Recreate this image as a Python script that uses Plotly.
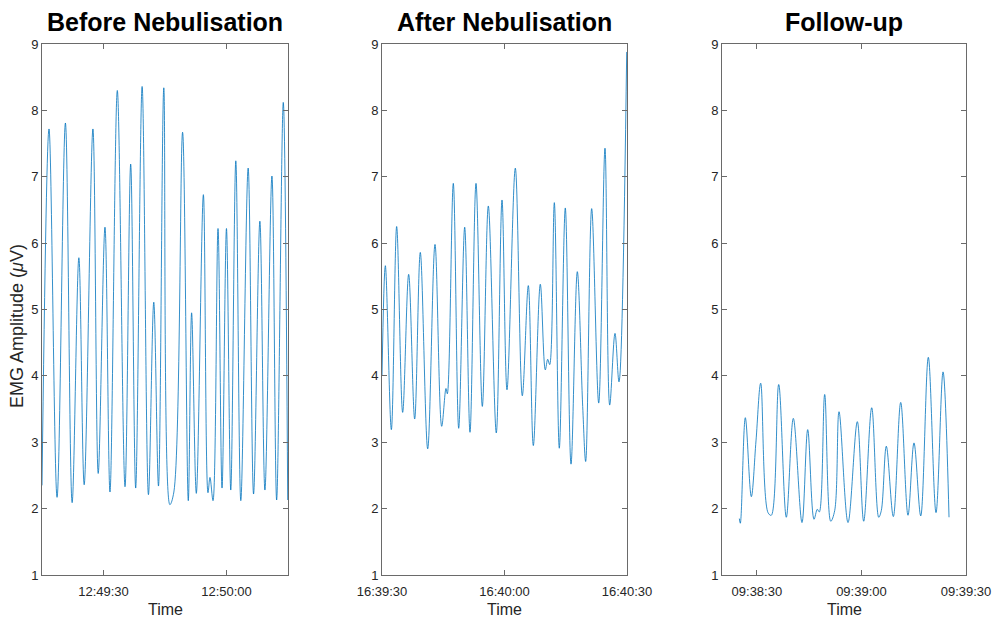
import pandas as pd
import plotly.graph_objects as go

# ---------------- data ----------------
titles = ["Before Nebulisation", "After Nebulisation", "Follow-up"]
x_label = "Time"
y_label = "EMG Amplitude (<i>μ</i>V)"

before_start = "2021-01-01 12:49:15"
before_t = [0.0, 1.71, 3.67, 5.71, 7.35, 8.99, 10.29, 12.42, 13.71, 15.36, 16.58,
            18.37, 20.25, 21.63, 22.85, 24.42, 25.96, 27.26, 28.41, 29.71, 31.18,
            32.16, 34.29, 35.68, 36.49, 37.64, 39.36, 40.48, 40.97, 41.71, 42.93,
            43.91, 44.99, 46.04, 47.27, 48.49, 50.28, 51.60, 53.14, 54.37, 56.08,
            57.23, 58.85, 59.93]
before_v = [2.35, 7.72, 2.17, 7.81, 2.09, 5.78, 2.36, 7.72, 2.53, 6.24, 2.25,
            8.30, 2.33, 7.19, 2.31, 8.36, 2.21, 5.11, 2.34, 8.34, 2.06,
            2.25, 7.67, 2.12, 4.95, 2.23, 6.73, 2.24, 2.47, 2.12, 6.22,
            2.31, 6.22, 2.28, 7.24, 2.12, 7.13, 2.22, 6.33, 2.28, 7.01,
            2.13, 8.12, 2.13]

after_start = "2021-01-01 16:39:30"
after_t = [0.0, 0.82, 2.29, 3.59, 5.06, 6.53, 8.00, 9.38, 11.19, 12.98, 14.62,
           15.67, 16.00, 17.46, 18.78, 20.25, 21.55, 23.02, 24.57, 26.04, 27.99,
           29.39, 30.61, 32.65, 34.36, 35.83, 37.06, 38.77, 39.99, 40.58, 41.07,
           42.20, 43.42, 44.89, 46.29, 47.83, 49.15, 49.88, 51.35, 53.07, 54.61,
           55.76, 57.06, 58.04, 59.93]
after_v = [4.00, 5.66, 3.19, 6.25, 3.45, 5.53, 3.35, 5.86, 2.90, 5.98, 3.24,
           3.81, 3.73, 6.90, 3.21, 6.24, 3.15, 6.90, 3.54, 6.56, 3.14,
           6.65, 3.79, 7.13, 3.70, 5.36, 2.95, 5.38, 4.09, 4.25, 4.17,
           6.61, 2.91, 6.53, 2.67, 5.57, 3.54, 2.71, 6.52, 3.59, 7.43,
           3.56, 4.64, 3.91, 8.88]

follow_start = "2021-01-01 09:38:20"
follow_t = [4.97, 5.26, 6.69, 8.41, 9.75, 11.10, 13.20, 14.15, 16.27, 18.45, 20.46,
            22.95, 24.59, 26.40, 27.34, 27.92, 29.46, 31.19, 32.33, 33.57, 36.15,
            38.82, 40.65, 42.95, 44.96, 45.70, 47.14, 49.15, 51.27, 53.36, 55.08,
            57.01, 59.19, 61.40, 63.41, 65.13]
follow_v = [1.85, 1.78, 3.37, 2.18, 3.02, 3.89, 1.94, 1.90, 3.87, 1.87, 3.36,
            1.79, 3.19, 1.84, 1.99, 1.95, 3.72, 1.81, 1.97, 3.46, 1.79,
            3.31, 1.81, 3.52, 1.87, 1.97, 2.94, 1.88, 3.60, 1.90, 2.99,
            1.89, 4.28, 1.94, 4.06, 1.87]

x_ranges = [("2021-01-01 12:49:15", "2021-01-01 12:50:15"),
            ("2021-01-01 16:39:30", "2021-01-01 16:40:30"),
            ("2021-01-01 09:38:20", "2021-01-01 09:39:30")]
x_ticks = [["2021-01-01 12:49:30", "2021-01-01 12:50:00"],
           ["2021-01-01 16:39:30", "2021-01-01 16:40:00", "2021-01-01 16:40:30"],
           ["2021-01-01 09:38:30", "2021-01-01 09:39:00", "2021-01-01 09:39:30"]]
x_tick_text = [["12:49:30", "12:50:00"],
               ["16:39:30", "16:40:00", "16:40:30"],
               ["09:38:30", "09:39:00", "09:39:30"]]
y_ticks = [1, 2, 3, 4, 5, 6, 7, 8, 9]

# ---------------- figure ----------------
W, H = 993, 617
domains_x = [(42, 288), (382, 627), (722, 966)]
y_top, y_bot = 44, 575
FONT = "Liberation Sans, Arial, Helvetica, sans-serif"
LINE = "#0072BD"
TXT = "#262626"
AXC = "#6a6a6a"

series = [(before_start, before_t, before_v),
          (after_start, after_t, after_v),
          (follow_start, follow_t, follow_v)]

fig = go.Figure()
layout = dict(width=W, height=H, margin=dict(l=0, r=0, t=0, b=0, autoexpand=False),
              paper_bgcolor="white", plot_bgcolor="white", showlegend=False,
              font=dict(family=FONT, color=TXT))
annotations = []
for i, (start, ts, vs) in enumerate(series):
    n = "" if i == 0 else str(i + 1)
    xs = pd.Timestamp(start) + pd.to_timedelta(ts, unit="s")
    fig.add_trace(go.Scatter(x=xs, y=vs, mode="lines",
                             line=dict(color=LINE, width=0.8, shape="spline", smoothing=1.0),
                             xaxis="x" + n, yaxis="y" + n, hoverinfo="skip"))
    x0, x1 = domains_x[i]
    layout["xaxis" + n] = dict(
        domain=[x0 / W, x1 / W], anchor="y" + n, type="date",
        range=list(x_ranges[i]), tickvals=x_ticks[i], ticktext=x_tick_text[i],
        ticks="inside", ticklen=5, tickcolor=AXC, mirror="ticks",
        showline=True, linecolor=AXC, linewidth=1, showgrid=False, zeroline=False,
        tickfont=dict(size=13, color=TXT, family=FONT), ticklabelstandoff=4,
        automargin=False,
    )
    layout["yaxis" + n] = dict(
        domain=[(H - y_bot) / H, (H - y_top) / H], anchor="x" + n,
        range=[1, 9], tickvals=y_ticks,
        ticks="inside", ticklen=5, tickcolor=AXC, mirror="ticks",
        showline=True, linecolor=AXC, linewidth=1, showgrid=False, zeroline=False,
        tickfont=dict(size=13, color=TXT, family=FONT), automargin=False,
    )
    cx = (x0 + x1) / 2 / W
    annotations.append(dict(text="<b>" + titles[i] + "</b>", x=cx, y=(H - 22) / H,
                            xref="paper", yref="paper", showarrow=False,
                            xanchor="center", yanchor="middle",
                            font=dict(size=25, color="black", family=FONT)))
    annotations.append(dict(text=x_label, x=cx, y=(H - 609) / H,
                            xref="paper", yref="paper", showarrow=False,
                            xanchor="center", yanchor="middle",
                            font=dict(size=16, color=TXT, family=FONT)))

annotations.append(dict(text=y_label, x=17 / W, y=(H - 326) / H, textangle=-90,
                        xref="paper", yref="paper", showarrow=False,
                        xanchor="center", yanchor="middle",
                        font=dict(size=18, color=TXT, family=FONT)))
layout["annotations"] = annotations
fig.update_layout(**layout)
fig.write_html("out.html", config={"displayModeBar": False},
               post_script="document.body.style.margin='0';document.body.style.overflow='hidden';")
